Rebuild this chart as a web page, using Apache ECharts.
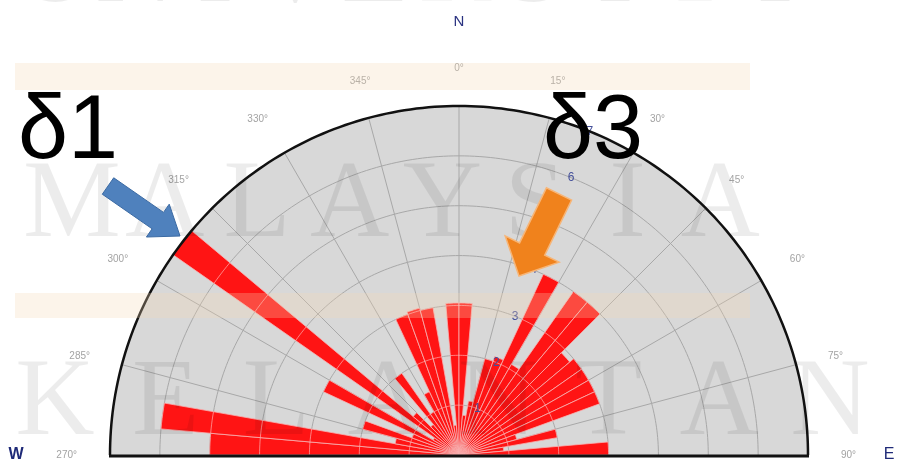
<!DOCTYPE html>
<html><head><meta charset="utf-8">
<script src="https://cdn.jsdelivr.net/npm/echarts@6/dist/echarts.min.js"></script>
<style>html,body{margin:0;padding:0;background:#fff}#c{width:899px;height:465px}</style>
</head><body><div id="c"></div>
<script>
// azimuth bin starts (degrees, 5° bins) and petal lengths
const binStarts = [270,275,280,285,290,295,300,305,310,315,320,325,330,335,340,345,350,355,
                   0,5,10,15,20,25,30,35,40,45,50,55,60,65,70,75,80,85];
const counts    = [5.0,6.0,1.3,2.0,1.0,3.0,0.6,7.0,1.2,0.8,2.0,1.0,1.4,3.0,3.05,3.0,0.6,3.05,
                   3.05,0.8,1.1,2.0,2.1,4.0,2.1,4.0,4.0,2.9,3.0,3.0,3.0,3.0,1.2,2.0,0.9,3.0];
const binWidth = 5;
const radialTicks = [1,2,3,4,5,6,7];
const angleTickValues = [-90,-75,-60,-45,-30,-15,0,15,30,45,60,75,90];
const rMax = 7;

const toAxis = az => az >= 180 ? az - 360 : az;
const petalData = binStarts.map((s,i)=>[counts[i], toAxis(s), toAxis(s)+binWidth]);

function arrowPts(tx,ty,hx,hy,sw,hw,hl){
  const dx=hx-tx, dy=hy-ty, L=Math.hypot(dx,dy), ux=dx/L, uy=dy/L, px=-uy, py=ux;
  const bx=hx-ux*hl, by=hy-uy*hl;
  return [[tx+px*sw/2,ty+py*sw/2],[bx+px*sw/2,by+py*sw/2],[bx+px*hw/2,by+py*hw/2],[hx,hy],
          [bx-px*hw/2,by-py*hw/2],[bx-px*sw/2,by-py*sw/2],[tx-px*sw/2,ty-py*sw/2]];
}
function letters(word, x0, step, yc, size){
  return word.split('').map((ch,i)=>({type:'text', z:5, silent:true,
    style:{text:ch, x:x0+i*step, y:yc, fontFamily:'Liberation Serif', fontSize:size,
      fill:'rgba(0,0,0,0.075)', align:'center', verticalAlign:'middle'}}));
}
function arcPts(api, r, a0, a1, step){
  const pts=[]; const n=Math.max(2, Math.ceil(Math.abs(a1-a0)/step));
  for(let i=0;i<=n;i++) pts.push(api.coord([r, a0+(a1-a0)*i/n]));
  return pts;
}

const chart = echarts.init(document.getElementById('c'));
const option = {
  animation:false,
  backgroundColor:'#fff',
  polar:{center:[459,455], radius:349},
  angleAxis:{
    type:'value', min:-90, max:90, interval:15, startAngle:180, endAngle:0, clockwise:true,
    axisLine:{show:false}, axisTick:{show:false},
    axisLabel:{show:true, margin:33, fontSize:10, color:'#a3a3a3', fontFamily:'Liberation Sans',
      formatter:v=>((v<0?v+360:v))+'°'},
    splitLine:{show:false}
  },
  radiusAxis:{
    type:'value', min:0, max:rMax, interval:1,
    axisLine:{show:false}, axisTick:{show:false}, axisLabel:{show:false},
    splitLine:{show:false}, splitArea:{show:false}
  },
  graphic:[
    {type:'rect', z:6, silent:true, shape:{x:15,y:63,width:735,height:27}, style:{fill:'rgba(246,214,180,0.28)'}},
    {type:'rect', z:6, silent:true, shape:{x:15,y:293,width:735,height:25}, style:{fill:'rgba(246,214,180,0.28)'}},
    ...letters('UNIVERSITI', 55, 80, -28, 110),
    ...letters('MALAYSIA', 72, 92.6, 207, 110),
    ...letters('KELANTAN', 55, 110.7, 405, 110),
    {type:'polygon', z:20, shape:{points:arrowPts(108,186,180,236,20,40,27)},
      style:{fill:'#4f81bd', stroke:'#3b6aa3', lineWidth:1}},
    {type:'polygon', z:20, shape:{points:arrowPts(559,194,519,276,28,60,30)},
      style:{fill:'#f0821c', stroke:'#f7b577', lineWidth:1.5}},
    {type:'text', z:21, style:{text:'δ1', x:18, y:133, fontFamily:'Liberation Sans', fontSize:90, fill:'#000', verticalAlign:'middle'}},
    {type:'text', z:21, style:{text:'δ3', x:543, y:133, fontFamily:'Liberation Sans', fontSize:90, fill:'#000', verticalAlign:'middle'}},
    {type:'text', z:21, style:{text:'N', x:459, y:22, fontFamily:'Liberation Sans', fontSize:15, fill:'#2a3280', align:'center', verticalAlign:'middle'}},
    {type:'text', z:21, style:{text:'W', x:16, y:455, fontFamily:'Liberation Sans', fontWeight:'bold', fontSize:16, fill:'#1f2a78', align:'center', verticalAlign:'middle'}},
    {type:'text', z:21, style:{text:'E', x:889, y:455, fontFamily:'Liberation Sans', fontSize:16, fill:'#1f2a78', align:'center', verticalAlign:'middle'}}
  ],
  series:[
    // background + grid
    {type:'custom', coordinateSystem:'polar', z:1, silent:true,
      data:[[rMax, 0]], encode:{radius:0, angle:1},
      renderItem:(params, api)=>{
        const R=api.value(0); const ch=[];
        ch.push({type:'polygon', shape:{points:arcPts(api,R,-90,90,1)}, style:{fill:'#d8d8d8'}});
        radialTicks.filter(v=>v<R).forEach(v=>ch.push({type:'polyline', shape:{points:arcPts(api,v,-90,90,1)},
          style:{stroke:'#a8a8a8', lineWidth:1, fill:null}}));
        angleTickValues.slice(1,-1).forEach(a=>{const p0=api.coord([0,a]), p1=api.coord([R,a]);
          ch.push({type:'line', shape:{x1:p0[0],y1:p0[1],x2:p1[0],y2:p1[1]}, style:{stroke:'#a8a8a8', lineWidth:1}});});
        return {type:'group', children:ch};
      }},
    // petals
    {type:'custom', coordinateSystem:'polar', z:3, silent:true,
      data:petalData, encode:{radius:0, angle:1},
      renderItem:(params, api)=>{
        const r=api.value(0), a0=api.value(1), a1=api.value(2);
        const pts=[api.coord([0,(a0+a1)/2])].concat(arcPts(api,r,a0,a1,1));
        const ch=[{type:'polygon', shape:{points:pts}, style:{fill:'#ff1414', stroke:'#f7b3b3', lineWidth:0.8}}];
        radialTicks.filter(v=>v<r).forEach(v=>ch.push({type:'polyline', shape:{points:arcPts(api,v,a0,a1,1)},
          style:{stroke:'rgba(255,190,190,0.8)', lineWidth:0.8, fill:null}}));
        return {type:'group', children:ch};
      }},
    // radial labels
    {type:'custom', coordinateSystem:'polar', z:4, silent:true,
      data:radialTicks.map(v=>[v, 22]), encode:{radius:0, angle:1},
      renderItem:(params, api)=>{
        const p=api.coord([api.value(0), api.value(1)]);
        return {type:'text', style:{text:String(api.value(0)), x:p[0], y:p[1], fontSize:12,
          fontFamily:'Liberation Sans', fill:'#44509a', align:'center', verticalAlign:'middle'}};
      }},
    // outline
    {type:'custom', coordinateSystem:'polar', z:5, silent:true,
      data:[[rMax, 0]], encode:{radius:0, angle:1},
      renderItem:(params, api)=>{
        const R=api.value(0);
        const p0=api.coord([R, -90]), p1=api.coord([R, 90]);
        return {type:'group', children:[
          {type:'polyline', shape:{points:arcPts(api,R,-90,90,1)}, style:{stroke:'#111', lineWidth:2.5, fill:null}},
          {type:'line', shape:{x1:p0[0]-1,y1:p0[1]+1,x2:p1[0]+1,y2:p1[1]+1}, style:{stroke:'#111', lineWidth:3}}
        ]};
      }}
  ]
};
chart.setOption(option);
</script>
</body></html>
